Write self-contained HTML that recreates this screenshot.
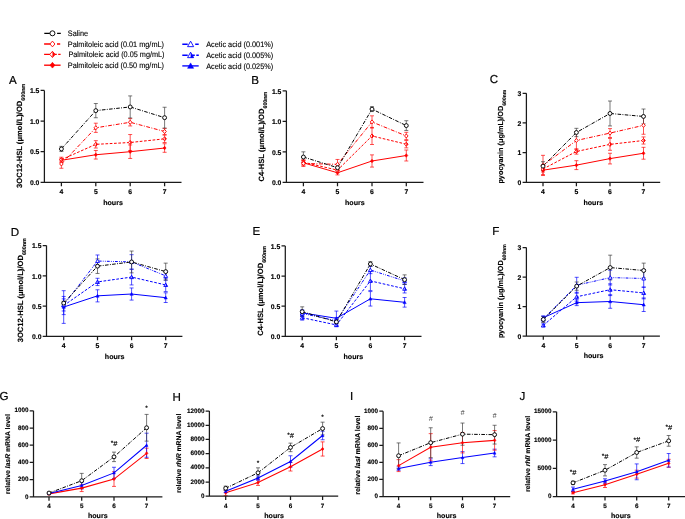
<!DOCTYPE html>
<html><head><meta charset="utf-8"><title>Figure</title>
<style>
html,body{margin:0;padding:0;background:#fff;}
svg{display:block;font-family:"Liberation Sans", sans-serif;will-change:transform;text-rendering:geometricPrecision;}
</style></head>
<body>
<svg width="685" height="519" viewBox="0 0 685 519">
<rect width="685" height="519" fill="#fff"/>
<path d="M44.3,33.3H49.9M57.1,33.3H60.8" stroke="#000000" stroke-width="1.35" fill="none"/>
<circle cx="52.45" cy="33.3" r="2.5" fill="#fff" stroke="#000000" stroke-width="0.95"/>
<text x="67.8" y="35.9" font-size="8.0" font-weight="400" text-anchor="start" fill="#000" textLength="20.3" lengthAdjust="spacingAndGlyphs" stroke="#000" stroke-width="0.12">Saline</text>
<path d="M44.1,44.0H50.0M57.0,44.0H60.2" stroke="#ff0000" stroke-width="1.35" fill="none"/>
<polygon points="52.45,41.11 54.92,44 52.45,46.89 49.98,44" fill="#fff" stroke="#ff0000" stroke-width="0.9"/>
<text x="67.8" y="46.6" font-size="8.0" font-weight="400" text-anchor="start" fill="#000" textLength="96.16" lengthAdjust="spacingAndGlyphs" stroke="#000" stroke-width="0.12">Palmitoleic acid (0.01 mg/mL)</text>
<path d="M44.1,54.4H50.0M52.4,54.4H56.8M58.2,54.4H60.6" stroke="#ff0000" stroke-width="1.35" fill="none"/>
<polygon points="52.45,51.32 55.08,54.4 52.45,57.48 49.83,54.4" fill="#fff" stroke="#ff0000" stroke-width="0.9"/><polygon points="52.45,51.32 55.08,54.4 52.45,57.48" fill="#ff0000"/>
<text x="68.4" y="57" font-size="8.0" font-weight="400" text-anchor="start" fill="#000" textLength="96.16" lengthAdjust="spacingAndGlyphs" stroke="#000" stroke-width="0.12">Palmitoleic acid (0.05 mg/mL)</text>
<path d="M44.1,65.2H60.6" stroke="#ff0000" stroke-width="1.35" fill="none"/>
<polygon points="52.45,62.31 54.92,65.2 52.45,68.09 49.98,65.2" fill="#ff0000" stroke="#ff0000" stroke-width="0.6"/>
<text x="67.8" y="67.8" font-size="8.0" font-weight="400" text-anchor="start" fill="#000" textLength="96.16" lengthAdjust="spacingAndGlyphs" stroke="#000" stroke-width="0.12">Palmitoleic acid (0.50 mg/mL)</text>
<path d="M182.3,44.2H187.7M195.2,44.2H198.7" stroke="#0000ff" stroke-width="1.35" fill="none"/>
<polygon points="190.6,41.18 193.64,46.65 187.56,46.65" fill="#fff" stroke="#0000ff" stroke-width="0.9"/>
<text x="206.2" y="46.8" font-size="8.0" font-weight="400" text-anchor="start" fill="#000" textLength="66.96" lengthAdjust="spacingAndGlyphs" stroke="#000" stroke-width="0.12">Acetic acid (0.001%)</text>
<path d="M182.3,55.2H187.7M190.5,55.2H194.8M196.3,55.2H198.8" stroke="#0000ff" stroke-width="1.35" fill="none"/>
<polygon points="190.6,52.18 193.64,57.65 187.56,57.65" fill="#fff" stroke="#0000ff" stroke-width="0.9"/><polygon points="190.6,52.18 193.64,57.65 190.6,57.65" fill="#0000ff"/>
<text x="206.2" y="57.8" font-size="8.0" font-weight="400" text-anchor="start" fill="#000" textLength="66.96" lengthAdjust="spacingAndGlyphs" stroke="#000" stroke-width="0.12">Acetic acid (0.005%)</text>
<path d="M182.3,65.9H198.7" stroke="#0000ff" stroke-width="1.35" fill="none"/>
<polygon points="190.6,62.88 193.64,68.35 187.56,68.35" fill="#0000ff" stroke="#0000ff" stroke-width="0.5"/>
<text x="206.2" y="68.5" font-size="8.0" font-weight="400" text-anchor="start" fill="#000" textLength="66.96" lengthAdjust="spacingAndGlyphs" stroke="#000" stroke-width="0.12">Acetic acid (0.025%)</text>
<path d="M61.4,158.44V162.12M59.4,158.44H63.4M59.4,162.12H63.4" fill="none" stroke="#ff0000" stroke-width="0.68"/>
<path d="M95.8,150.47V159.06M93.8,150.47H97.8M93.8,159.06H97.8" fill="none" stroke="#ff0000" stroke-width="0.68"/>
<path d="M130.2,144.96V158.44M128.2,144.96H132.2M128.2,158.44H132.2" fill="none" stroke="#ff0000" stroke-width="0.68"/>
<path d="M164.6,143.73V152.31M162.6,143.73H166.6M162.6,152.31H166.6" fill="none" stroke="#ff0000" stroke-width="0.68"/>
<path d="M61.4,157.22V162.12M59.4,157.22H63.4M59.4,162.12H63.4" fill="none" stroke="#ff0000" stroke-width="0.68"/>
<path d="M95.8,140.67V148.02M93.8,140.67H97.8M93.8,148.02H97.8" fill="none" stroke="#ff0000" stroke-width="0.68"/>
<path d="M130.2,134.54V150.47M128.2,134.54H132.2M128.2,150.47H132.2" fill="none" stroke="#ff0000" stroke-width="0.68"/>
<path d="M164.6,135.15V142.5M162.6,135.15H166.6M162.6,142.5H166.6" fill="none" stroke="#ff0000" stroke-width="0.68"/>
<path d="M61.4,159.67V168.25M59.4,159.67H63.4M59.4,168.25H63.4" fill="none" stroke="#ff0000" stroke-width="0.68"/>
<path d="M95.8,123.2V132.39M93.8,123.2H97.8M93.8,132.39H97.8" fill="none" stroke="#ff0000" stroke-width="0.68"/>
<path d="M130.2,118.6V125.95M128.2,118.6H132.2M128.2,125.95H132.2" fill="none" stroke="#ff0000" stroke-width="0.68"/>
<path d="M164.6,128.41V134.54M162.6,128.41H166.6M162.6,134.54H166.6" fill="none" stroke="#ff0000" stroke-width="0.68"/>
<path d="M61.4,146.37V151.52M59.4,146.37H63.4M59.4,151.52H63.4" fill="none" stroke="#3a3a3a" stroke-width="0.68"/>
<path d="M95.8,103.52V117.74M93.8,103.52H97.8M93.8,117.74H97.8" fill="none" stroke="#3a3a3a" stroke-width="0.68"/>
<path d="M130.2,95.92V117.98M128.2,95.92H132.2M128.2,117.98H132.2" fill="none" stroke="#3a3a3a" stroke-width="0.68"/>
<path d="M164.6,107.26V128.1M162.6,107.26H166.6M162.6,128.1H166.6" fill="none" stroke="#3a3a3a" stroke-width="0.68"/>
<path d="M61.4,160.28 L95.8,154.76 L130.2,151.7 L164.6,148.02" fill="none" stroke="#ff0000" stroke-width="1.0"/>
<path d="M61.4,159.67 L95.8,144.34 L130.2,142.5 L164.6,138.83" fill="none" stroke="#ff0000" stroke-width="1.0" stroke-dasharray="2.7 1.6"/>
<path d="M61.4,163.96 L95.8,127.79 L130.2,122.28 L164.6,131.47" fill="none" stroke="#ff0000" stroke-width="1.0" stroke-dasharray="3.8 1.5 0.9 1.6"/>
<path d="M61.4,148.94 L95.8,110.63 L130.2,106.95 L164.6,117.68" fill="none" stroke="#000000" stroke-width="1.0" stroke-dasharray="3.6 1.35 0.9 1.35"/>
<polygon points="61.4,158.54 62.89,160.28 61.4,162.02 59.91,160.28" fill="#ff0000" stroke="#ff0000" stroke-width="0.6"/>
<polygon points="95.8,153.02 97.29,154.76 95.8,156.51 94.31,154.76" fill="#ff0000" stroke="#ff0000" stroke-width="0.6"/>
<polygon points="130.2,149.96 131.69,151.7 130.2,153.44 128.71,151.7" fill="#ff0000" stroke="#ff0000" stroke-width="0.6"/>
<polygon points="164.6,146.28 166.09,148.02 164.6,149.76 163.11,148.02" fill="#ff0000" stroke="#ff0000" stroke-width="0.6"/>
<polygon points="61.4,157.62 63.15,159.67 61.4,161.72 59.65,159.67" fill="#fff" stroke="#ff0000" stroke-width="0.9"/><polygon points="61.4,157.62 63.15,159.67 61.4,161.72" fill="#ff0000"/>
<polygon points="95.8,142.29 97.55,144.34 95.8,146.39 94.05,144.34" fill="#fff" stroke="#ff0000" stroke-width="0.9"/><polygon points="95.8,142.29 97.55,144.34 95.8,146.39" fill="#ff0000"/>
<polygon points="130.2,140.45 131.95,142.5 130.2,144.56 128.45,142.5" fill="#fff" stroke="#ff0000" stroke-width="0.9"/><polygon points="130.2,140.45 131.95,142.5 130.2,144.56" fill="#ff0000"/>
<polygon points="164.6,136.78 166.35,138.83 164.6,140.88 162.85,138.83" fill="#fff" stroke="#ff0000" stroke-width="0.9"/><polygon points="164.6,136.78 166.35,138.83 164.6,140.88" fill="#ff0000"/>
<polygon points="61.4,161.91 63.15,163.96 61.4,166.01 59.65,163.96" fill="#fff" stroke="#ff0000" stroke-width="0.9"/>
<polygon points="95.8,125.74 97.55,127.79 95.8,129.84 94.05,127.79" fill="#fff" stroke="#ff0000" stroke-width="0.9"/>
<polygon points="130.2,120.23 131.95,122.28 130.2,124.33 128.45,122.28" fill="#fff" stroke="#ff0000" stroke-width="0.9"/>
<polygon points="164.6,129.42 166.35,131.47 164.6,133.52 162.85,131.47" fill="#fff" stroke="#ff0000" stroke-width="0.9"/>
<circle cx="61.4" cy="148.94" r="1.95" fill="#fff" stroke="#000000" stroke-width="0.95"/>
<circle cx="95.8" cy="110.63" r="1.95" fill="#fff" stroke="#000000" stroke-width="0.95"/>
<circle cx="130.2" cy="106.95" r="1.95" fill="#fff" stroke="#000000" stroke-width="0.95"/>
<circle cx="164.6" cy="117.68" r="1.95" fill="#fff" stroke="#000000" stroke-width="0.95"/>
<path d="M44.4,90.4V182.35M40.6,182.35H181.5M40.6,182.35H44.4M40.6,151.7H44.4M40.6,121.05H44.4M40.6,90.4H44.4M61.4,182.35V186.15M95.8,182.35V186.15M130.2,182.35V186.15M164.6,182.35V186.15" fill="none" stroke="#1a1a1a" stroke-width="1.25"/>
<text x="39.4" y="185.07" font-size="6.8" font-weight="700" text-anchor="end" fill="#000" stroke="#000" stroke-width="0.14">0.0</text>
<text x="39.4" y="154.42" font-size="6.8" font-weight="700" text-anchor="end" fill="#000" stroke="#000" stroke-width="0.14">0.5</text>
<text x="39.4" y="123.77" font-size="6.8" font-weight="700" text-anchor="end" fill="#000" stroke="#000" stroke-width="0.14">1.0</text>
<text x="39.4" y="93.12" font-size="6.8" font-weight="700" text-anchor="end" fill="#000" stroke="#000" stroke-width="0.14">1.5</text>
<text x="61.4" y="194.15" font-size="6.8" font-weight="700" text-anchor="middle" fill="#000" stroke="#000" stroke-width="0.14">4</text>
<text x="95.8" y="194.15" font-size="6.8" font-weight="700" text-anchor="middle" fill="#000" stroke="#000" stroke-width="0.14">5</text>
<text x="130.2" y="194.15" font-size="6.8" font-weight="700" text-anchor="middle" fill="#000" stroke="#000" stroke-width="0.14">6</text>
<text x="164.6" y="194.15" font-size="6.8" font-weight="700" text-anchor="middle" fill="#000" stroke="#000" stroke-width="0.14">7</text>
<text x="113" y="204.65" font-size="7.1" font-weight="700" text-anchor="middle" fill="#000" stroke="#000" stroke-width="0.14">hours</text>
<text transform="translate(21.7,135.9) rotate(-90)" font-size="7.6" font-weight="700" text-anchor="middle" stroke="#000" stroke-width="0.14">3OC12-HSL (μmol/L)/OD<tspan font-size="5.3" dy="3.0">600nm</tspan></text>
<text x="9" y="83.8" font-size="11.6" font-weight="400" text-anchor="start" fill="#000" stroke="#000" stroke-width="0.2">A</text>
<path d="M303.4,160.38V165.26M301.4,160.38H305.4M301.4,165.26H305.4" fill="none" stroke="#ff0000" stroke-width="0.68"/>
<path d="M337.5,170.63V174.9M335.5,170.63H339.5M335.5,174.9H339.5" fill="none" stroke="#ff0000" stroke-width="0.68"/>
<path d="M372,154.88V167.09M370,154.88H374M370,167.09H374" fill="none" stroke="#ff0000" stroke-width="0.68"/>
<path d="M406.3,150V160.99M404.3,150H408.3M404.3,160.99H408.3" fill="none" stroke="#ff0000" stroke-width="0.68"/>
<path d="M303.4,159.77V164.65M301.4,159.77H305.4M301.4,164.65H305.4" fill="none" stroke="#ff0000" stroke-width="0.68"/>
<path d="M337.5,167.7V172.58M335.5,167.7H339.5M335.5,172.58H339.5" fill="none" stroke="#ff0000" stroke-width="0.68"/>
<path d="M372,127.42V144.51M370,127.42H374M370,144.51H374" fill="none" stroke="#ff0000" stroke-width="0.68"/>
<path d="M406.3,140.54V147.87M404.3,140.54H408.3M404.3,147.87H408.3" fill="none" stroke="#ff0000" stroke-width="0.68"/>
<path d="M303.4,160.38V166.48M301.4,160.38H305.4M301.4,166.48H305.4" fill="none" stroke="#ff0000" stroke-width="0.68"/>
<path d="M337.5,159.46V169.23M335.5,159.46H339.5M335.5,169.23H339.5" fill="none" stroke="#ff0000" stroke-width="0.68"/>
<path d="M372,115.82V128.03M370,115.82H374M370,128.03H374" fill="none" stroke="#ff0000" stroke-width="0.68"/>
<path d="M406.3,132.3V139.63M404.3,132.3H408.3M404.3,139.63H408.3" fill="none" stroke="#ff0000" stroke-width="0.68"/>
<path d="M303.4,151.83V162.21M301.4,151.83H305.4M301.4,162.21H305.4" fill="none" stroke="#3a3a3a" stroke-width="0.68"/>
<path d="M337.5,164.65V170.75M335.5,164.65H339.5M335.5,170.75H339.5" fill="none" stroke="#3a3a3a" stroke-width="0.68"/>
<path d="M372,106.67V111.55M370,106.67H374M370,111.55H374" fill="none" stroke="#3a3a3a" stroke-width="0.68"/>
<path d="M406.3,120.71V130.47M404.3,120.71H408.3M404.3,130.47H408.3" fill="none" stroke="#3a3a3a" stroke-width="0.68"/>
<path d="M303.4,162.82 L337.5,172.77 L372,160.99 L406.3,155.5" fill="none" stroke="#ff0000" stroke-width="1.0"/>
<path d="M303.4,162.21 L337.5,170.14 L372,135.96 L406.3,144.2" fill="none" stroke="#ff0000" stroke-width="1.0" stroke-dasharray="2.7 1.6"/>
<path d="M303.4,163.43 L337.5,164.35 L372,121.93 L406.3,135.96" fill="none" stroke="#ff0000" stroke-width="1.0" stroke-dasharray="3.8 1.5 0.9 1.6"/>
<path d="M303.4,157.02 L337.5,167.7 L372,109.11 L406.3,125.59" fill="none" stroke="#000000" stroke-width="1.0" stroke-dasharray="3.6 1.35 0.9 1.35"/>
<polygon points="303.4,161.08 304.89,162.82 303.4,164.56 301.91,162.82" fill="#ff0000" stroke="#ff0000" stroke-width="0.6"/>
<polygon points="337.5,171.03 338.99,172.77 337.5,174.51 336.01,172.77" fill="#ff0000" stroke="#ff0000" stroke-width="0.6"/>
<polygon points="372,159.25 373.49,160.99 372,162.73 370.51,160.99" fill="#ff0000" stroke="#ff0000" stroke-width="0.6"/>
<polygon points="406.3,153.75 407.79,155.5 406.3,157.24 404.81,155.5" fill="#ff0000" stroke="#ff0000" stroke-width="0.6"/>
<polygon points="303.4,160.16 305.15,162.21 303.4,164.26 301.65,162.21" fill="#fff" stroke="#ff0000" stroke-width="0.9"/><polygon points="303.4,160.16 305.15,162.21 303.4,164.26" fill="#ff0000"/>
<polygon points="337.5,168.09 339.25,170.14 337.5,172.19 335.75,170.14" fill="#fff" stroke="#ff0000" stroke-width="0.9"/><polygon points="337.5,168.09 339.25,170.14 337.5,172.19" fill="#ff0000"/>
<polygon points="372,133.91 373.75,135.96 372,138.01 370.25,135.96" fill="#fff" stroke="#ff0000" stroke-width="0.9"/><polygon points="372,133.91 373.75,135.96 372,138.01" fill="#ff0000"/>
<polygon points="406.3,142.15 408.05,144.2 406.3,146.25 404.55,144.2" fill="#fff" stroke="#ff0000" stroke-width="0.9"/><polygon points="406.3,142.15 408.05,144.2 406.3,146.25" fill="#ff0000"/>
<polygon points="303.4,161.38 305.15,163.43 303.4,165.48 301.65,163.43" fill="#fff" stroke="#ff0000" stroke-width="0.9"/>
<polygon points="337.5,162.3 339.25,164.35 337.5,166.4 335.75,164.35" fill="#fff" stroke="#ff0000" stroke-width="0.9"/>
<polygon points="372,119.88 373.75,121.93 372,123.98 370.25,121.93" fill="#fff" stroke="#ff0000" stroke-width="0.9"/>
<polygon points="406.3,133.91 408.05,135.96 406.3,138.01 404.55,135.96" fill="#fff" stroke="#ff0000" stroke-width="0.9"/>
<circle cx="303.4" cy="157.02" r="1.95" fill="#fff" stroke="#000000" stroke-width="0.95"/>
<circle cx="337.5" cy="167.7" r="1.95" fill="#fff" stroke="#000000" stroke-width="0.95"/>
<circle cx="372" cy="109.11" r="1.95" fill="#fff" stroke="#000000" stroke-width="0.95"/>
<circle cx="406.3" cy="125.59" r="1.95" fill="#fff" stroke="#000000" stroke-width="0.95"/>
<path d="M286.4,90.8V182.35M282.6,182.35H423.5M282.6,182.35H286.4M282.6,151.83H286.4M282.6,121.32H286.4M282.6,90.8H286.4M303.4,182.35V186.15M337.5,182.35V186.15M372,182.35V186.15M406.3,182.35V186.15" fill="none" stroke="#1a1a1a" stroke-width="1.25"/>
<text x="281.4" y="185.07" font-size="6.8" font-weight="700" text-anchor="end" fill="#000" stroke="#000" stroke-width="0.14">0.0</text>
<text x="281.4" y="154.55" font-size="6.8" font-weight="700" text-anchor="end" fill="#000" stroke="#000" stroke-width="0.14">0.5</text>
<text x="281.4" y="124.04" font-size="6.8" font-weight="700" text-anchor="end" fill="#000" stroke="#000" stroke-width="0.14">1.0</text>
<text x="281.4" y="93.52" font-size="6.8" font-weight="700" text-anchor="end" fill="#000" stroke="#000" stroke-width="0.14">1.5</text>
<text x="303.4" y="194.15" font-size="6.8" font-weight="700" text-anchor="middle" fill="#000" stroke="#000" stroke-width="0.14">4</text>
<text x="337.5" y="194.15" font-size="6.8" font-weight="700" text-anchor="middle" fill="#000" stroke="#000" stroke-width="0.14">5</text>
<text x="372" y="194.15" font-size="6.8" font-weight="700" text-anchor="middle" fill="#000" stroke="#000" stroke-width="0.14">6</text>
<text x="406.3" y="194.15" font-size="6.8" font-weight="700" text-anchor="middle" fill="#000" stroke="#000" stroke-width="0.14">7</text>
<text x="354.85" y="204.65" font-size="7.1" font-weight="700" text-anchor="middle" fill="#000" stroke="#000" stroke-width="0.14">hours</text>
<text transform="translate(263.7,136.6) rotate(-90)" font-size="7.6" font-weight="700" text-anchor="middle" stroke="#000" stroke-width="0.14">C4-HSL (μmol/L)/OD<tspan font-size="5.3" dy="3.0">600nm</tspan></text>
<text x="251.3" y="84" font-size="11.6" font-weight="400" text-anchor="start" fill="#000" stroke="#000" stroke-width="0.2">B</text>
<path d="M543,165.73V174.63M541,165.73H545M541,174.63H545" fill="none" stroke="#ff0000" stroke-width="0.68"/>
<path d="M576.4,160.68V169.59M574.4,160.68H578.4M574.4,169.59H578.4" fill="none" stroke="#ff0000" stroke-width="0.68"/>
<path d="M610,153.26V163.95M608,153.26H612M608,163.95H612" fill="none" stroke="#ff0000" stroke-width="0.68"/>
<path d="M643.5,147.32V159.2M641.5,147.32H645.5M641.5,159.2H645.5" fill="none" stroke="#ff0000" stroke-width="0.68"/>
<path d="M543,166.02V171.96M541,166.02H545M541,171.96H545" fill="none" stroke="#ff0000" stroke-width="0.68"/>
<path d="M576.4,148.81V154.15M574.4,148.81H578.4M574.4,154.15H578.4" fill="none" stroke="#ff0000" stroke-width="0.68"/>
<path d="M610,138.42V150.29M608,138.42H612M608,150.29H612" fill="none" stroke="#ff0000" stroke-width="0.68"/>
<path d="M643.5,136.93V144.06M641.5,136.93H645.5M641.5,144.06H645.5" fill="none" stroke="#ff0000" stroke-width="0.68"/>
<path d="M543,155.34V175.52M541,155.34H545M541,175.52H545" fill="none" stroke="#ff0000" stroke-width="0.68"/>
<path d="M576.4,131.59V149.4M574.4,131.59H578.4M574.4,149.4H578.4" fill="none" stroke="#ff0000" stroke-width="0.68"/>
<path d="M610,128.62V137.53M608,128.62H612M608,137.53H612" fill="none" stroke="#ff0000" stroke-width="0.68"/>
<path d="M643.5,116.45V134.26M641.5,116.45H645.5M641.5,134.26H645.5" fill="none" stroke="#ff0000" stroke-width="0.68"/>
<path d="M543,161.69V170.6M541,161.69H545M541,170.6H545" fill="none" stroke="#3a3a3a" stroke-width="0.68"/>
<path d="M576.4,128.33V136.64M574.4,128.33H578.4M574.4,136.64H578.4" fill="none" stroke="#3a3a3a" stroke-width="0.68"/>
<path d="M610,101.02V125.95M608,101.02H612M608,125.95H612" fill="none" stroke="#3a3a3a" stroke-width="0.68"/>
<path d="M643.5,109.03V123.87M641.5,109.03H645.5M641.5,123.87H645.5" fill="none" stroke="#3a3a3a" stroke-width="0.68"/>
<path d="M543,170.18 L576.4,165.13 L610,158.6 L643.5,153.26" fill="none" stroke="#ff0000" stroke-width="1.0"/>
<path d="M543,168.99 L576.4,151.48 L610,144.36 L643.5,140.5" fill="none" stroke="#ff0000" stroke-width="1.0" stroke-dasharray="2.7 1.6"/>
<path d="M543,165.43 L576.4,140.5 L610,133.08 L643.5,125.36" fill="none" stroke="#ff0000" stroke-width="1.0" stroke-dasharray="3.8 1.5 0.9 1.6"/>
<path d="M543,166.14 L576.4,132.48 L610,113.48 L643.5,116.45" fill="none" stroke="#000000" stroke-width="1.0" stroke-dasharray="3.6 1.35 0.9 1.35"/>
<polygon points="543,168.44 544.49,170.18 543,171.92 541.51,170.18" fill="#ff0000" stroke="#ff0000" stroke-width="0.6"/>
<polygon points="576.4,163.39 577.89,165.13 576.4,166.88 574.91,165.13" fill="#ff0000" stroke="#ff0000" stroke-width="0.6"/>
<polygon points="610,156.86 611.49,158.6 610,160.35 608.51,158.6" fill="#ff0000" stroke="#ff0000" stroke-width="0.6"/>
<polygon points="643.5,151.52 644.99,153.26 643.5,155 642.01,153.26" fill="#ff0000" stroke="#ff0000" stroke-width="0.6"/>
<polygon points="543,166.94 544.75,168.99 543,171.04 541.25,168.99" fill="#fff" stroke="#ff0000" stroke-width="0.9"/><polygon points="543,166.94 544.75,168.99 543,171.04" fill="#ff0000"/>
<polygon points="576.4,149.43 578.15,151.48 576.4,153.53 574.65,151.48" fill="#fff" stroke="#ff0000" stroke-width="0.9"/><polygon points="576.4,149.43 578.15,151.48 576.4,153.53" fill="#ff0000"/>
<polygon points="610,142.31 611.75,144.36 610,146.41 608.25,144.36" fill="#fff" stroke="#ff0000" stroke-width="0.9"/><polygon points="610,142.31 611.75,144.36 610,146.41" fill="#ff0000"/>
<polygon points="643.5,138.45 645.25,140.5 643.5,142.55 641.75,140.5" fill="#fff" stroke="#ff0000" stroke-width="0.9"/><polygon points="643.5,138.45 645.25,140.5 643.5,142.55" fill="#ff0000"/>
<polygon points="543,163.38 544.75,165.43 543,167.48 541.25,165.43" fill="#fff" stroke="#ff0000" stroke-width="0.9"/>
<polygon points="576.4,138.45 578.15,140.5 576.4,142.55 574.65,140.5" fill="#fff" stroke="#ff0000" stroke-width="0.9"/>
<polygon points="610,131.03 611.75,133.08 610,135.13 608.25,133.08" fill="#fff" stroke="#ff0000" stroke-width="0.9"/>
<polygon points="643.5,123.31 645.25,125.36 643.5,127.41 641.75,125.36" fill="#fff" stroke="#ff0000" stroke-width="0.9"/>
<circle cx="543" cy="166.14" r="1.95" fill="#fff" stroke="#000000" stroke-width="0.95"/>
<circle cx="576.4" cy="132.48" r="1.95" fill="#fff" stroke="#000000" stroke-width="0.95"/>
<circle cx="610" cy="113.48" r="1.95" fill="#fff" stroke="#000000" stroke-width="0.95"/>
<circle cx="643.5" cy="116.45" r="1.95" fill="#fff" stroke="#000000" stroke-width="0.95"/>
<path d="M526.4,93.3V182.35M522.6,182.35H660.2M522.6,182.35H526.4M522.6,152.67H526.4M522.6,122.98H526.4M522.6,93.3H526.4M543,182.35V186.15M576.4,182.35V186.15M610,182.35V186.15M643.5,182.35V186.15" fill="none" stroke="#1a1a1a" stroke-width="1.25"/>
<text x="521.4" y="185.07" font-size="6.8" font-weight="700" text-anchor="end" fill="#000" stroke="#000" stroke-width="0.14">0</text>
<text x="521.4" y="155.39" font-size="6.8" font-weight="700" text-anchor="end" fill="#000" stroke="#000" stroke-width="0.14">1</text>
<text x="521.4" y="125.7" font-size="6.8" font-weight="700" text-anchor="end" fill="#000" stroke="#000" stroke-width="0.14">2</text>
<text x="521.4" y="96.02" font-size="6.8" font-weight="700" text-anchor="end" fill="#000" stroke="#000" stroke-width="0.14">3</text>
<text x="543" y="194.15" font-size="6.8" font-weight="700" text-anchor="middle" fill="#000" stroke="#000" stroke-width="0.14">4</text>
<text x="576.4" y="194.15" font-size="6.8" font-weight="700" text-anchor="middle" fill="#000" stroke="#000" stroke-width="0.14">5</text>
<text x="610" y="194.15" font-size="6.8" font-weight="700" text-anchor="middle" fill="#000" stroke="#000" stroke-width="0.14">6</text>
<text x="643.5" y="194.15" font-size="6.8" font-weight="700" text-anchor="middle" fill="#000" stroke="#000" stroke-width="0.14">7</text>
<text x="593.25" y="204.65" font-size="7.1" font-weight="700" text-anchor="middle" fill="#000" stroke="#000" stroke-width="0.14">hours</text>
<text transform="translate(502.7,136.6) rotate(-90)" font-size="7.3" font-weight="700" text-anchor="middle" stroke="#000" stroke-width="0.14">pyocyanin (μg/mL)/OD<tspan font-size="5.1" dy="3.0">600nm</tspan></text>
<text x="489.8" y="83.4" font-size="11.6" font-weight="400" text-anchor="start" fill="#000" stroke="#000" stroke-width="0.2">C</text>
<path d="M63.7,290.7V323.39M61.7,290.7H65.7M61.7,323.39H65.7" fill="none" stroke="#0000ff" stroke-width="0.68"/>
<path d="M97.5,289.79V301.9M95.5,289.79H99.5M95.5,301.9H99.5" fill="none" stroke="#0000ff" stroke-width="0.68"/>
<path d="M131.6,287.97V300.08M129.6,287.97H133.6M129.6,300.08H133.6" fill="none" stroke="#0000ff" stroke-width="0.68"/>
<path d="M165.7,292.82V302.5M163.7,292.82H167.7M163.7,302.5H167.7" fill="none" stroke="#0000ff" stroke-width="0.68"/>
<path d="M63.7,296.45V314.61M61.7,296.45H65.7M61.7,314.61H65.7" fill="none" stroke="#0000ff" stroke-width="0.68"/>
<path d="M97.5,278.29V285.55M95.5,278.29H99.5M95.5,285.55H99.5" fill="none" stroke="#0000ff" stroke-width="0.68"/>
<path d="M131.6,269.21V284.95M129.6,269.21H133.6M129.6,284.95H133.6" fill="none" stroke="#0000ff" stroke-width="0.68"/>
<path d="M165.7,278.29V291.61M163.7,278.29H167.7M163.7,291.61H167.7" fill="none" stroke="#0000ff" stroke-width="0.68"/>
<path d="M63.7,298.87V310.98M61.7,298.87H65.7M61.7,310.98H65.7" fill="none" stroke="#0000ff" stroke-width="0.68"/>
<path d="M97.5,254.98V267.09M95.5,254.98H99.5M95.5,267.09H99.5" fill="none" stroke="#0000ff" stroke-width="0.68"/>
<path d="M131.6,254.68V269.21M129.6,254.68H133.6M129.6,269.21H133.6" fill="none" stroke="#0000ff" stroke-width="0.68"/>
<path d="M165.7,271.63V280.1M163.7,271.63H167.7M163.7,280.1H167.7" fill="none" stroke="#0000ff" stroke-width="0.68"/>
<path d="M63.7,301.29V304.92M61.7,301.29H65.7M61.7,304.92H65.7" fill="none" stroke="#3a3a3a" stroke-width="0.68"/>
<path d="M97.5,258.92V273.45M95.5,258.92H99.5M95.5,273.45H99.5" fill="none" stroke="#3a3a3a" stroke-width="0.68"/>
<path d="M131.6,251.05V272.84M129.6,251.05H133.6M129.6,272.84H133.6" fill="none" stroke="#3a3a3a" stroke-width="0.68"/>
<path d="M165.7,263.15V280.1M163.7,263.15H167.7M163.7,280.1H167.7" fill="none" stroke="#3a3a3a" stroke-width="0.68"/>
<path d="M63.7,307.04 L97.5,295.84 L131.6,294.03 L165.7,297.66" fill="none" stroke="#0000ff" stroke-width="1.0"/>
<path d="M63.7,305.53 L97.5,281.92 L131.6,277.08 L165.7,284.95" fill="none" stroke="#0000ff" stroke-width="1.0" stroke-dasharray="2.7 1.6"/>
<path d="M63.7,304.92 L97.5,261.04 L131.6,261.94 L165.7,275.87" fill="none" stroke="#0000ff" stroke-width="1.0" stroke-dasharray="2.8 1.2 0.8 1.3 0.8 1.2"/>
<path d="M63.7,303.11 L97.5,266.18 L131.6,261.94 L165.7,271.63" fill="none" stroke="#000000" stroke-width="1.0" stroke-dasharray="3.6 1.35 0.9 1.35"/>
<polygon points="63.7,305.43 65.31,308.34 62.09,308.34" fill="#0000ff" stroke="#0000ff" stroke-width="0.5"/>
<polygon points="97.5,294.24 99.11,297.14 95.89,297.14" fill="#0000ff" stroke="#0000ff" stroke-width="0.5"/>
<polygon points="131.6,292.42 133.22,295.33 129.98,295.33" fill="#0000ff" stroke="#0000ff" stroke-width="0.5"/>
<polygon points="165.7,296.05 167.31,298.96 164.08,298.96" fill="#0000ff" stroke="#0000ff" stroke-width="0.5"/>
<polygon points="63.7,303.64 65.6,307.06 61.8,307.06" fill="#fff" stroke="#0000ff" stroke-width="0.9"/><polygon points="63.7,303.64 65.6,307.06 63.7,307.06" fill="#0000ff"/>
<polygon points="97.5,280.03 99.4,283.45 95.6,283.45" fill="#fff" stroke="#0000ff" stroke-width="0.9"/><polygon points="97.5,280.03 99.4,283.45 97.5,283.45" fill="#0000ff"/>
<polygon points="131.6,275.19 133.5,278.61 129.7,278.61" fill="#fff" stroke="#0000ff" stroke-width="0.9"/><polygon points="131.6,275.19 133.5,278.61 131.6,278.61" fill="#0000ff"/>
<polygon points="165.7,283.06 167.6,286.48 163.8,286.48" fill="#fff" stroke="#0000ff" stroke-width="0.9"/><polygon points="165.7,283.06 167.6,286.48 165.7,286.48" fill="#0000ff"/>
<polygon points="63.7,303.03 65.6,306.45 61.8,306.45" fill="#fff" stroke="#0000ff" stroke-width="0.9"/>
<polygon points="97.5,259.15 99.4,262.57 95.6,262.57" fill="#fff" stroke="#0000ff" stroke-width="0.9"/>
<polygon points="131.6,260.05 133.5,263.47 129.7,263.47" fill="#fff" stroke="#0000ff" stroke-width="0.9"/>
<polygon points="165.7,273.98 167.6,277.4 163.8,277.4" fill="#fff" stroke="#0000ff" stroke-width="0.9"/>
<circle cx="63.7" cy="303.11" r="1.95" fill="#fff" stroke="#000000" stroke-width="0.95"/>
<circle cx="97.5" cy="266.18" r="1.95" fill="#fff" stroke="#000000" stroke-width="0.95"/>
<circle cx="131.6" cy="261.94" r="1.95" fill="#fff" stroke="#000000" stroke-width="0.95"/>
<circle cx="165.7" cy="271.63" r="1.95" fill="#fff" stroke="#000000" stroke-width="0.95"/>
<path d="M46.5,245.6V336.4M42.7,336.4H182.4M42.7,336.4H46.5M42.7,306.13H46.5M42.7,275.87H46.5M42.7,245.6H46.5M63.7,336.4V340.2M97.5,336.4V340.2M131.6,336.4V340.2M165.7,336.4V340.2" fill="none" stroke="#1a1a1a" stroke-width="1.25"/>
<text x="41.5" y="339.12" font-size="6.8" font-weight="700" text-anchor="end" fill="#000" stroke="#000" stroke-width="0.14">0.0</text>
<text x="41.5" y="308.85" font-size="6.8" font-weight="700" text-anchor="end" fill="#000" stroke="#000" stroke-width="0.14">0.5</text>
<text x="41.5" y="278.59" font-size="6.8" font-weight="700" text-anchor="end" fill="#000" stroke="#000" stroke-width="0.14">1.0</text>
<text x="41.5" y="248.32" font-size="6.8" font-weight="700" text-anchor="end" fill="#000" stroke="#000" stroke-width="0.14">1.5</text>
<text x="63.7" y="348.2" font-size="6.8" font-weight="700" text-anchor="middle" fill="#000" stroke="#000" stroke-width="0.14">4</text>
<text x="97.5" y="348.2" font-size="6.8" font-weight="700" text-anchor="middle" fill="#000" stroke="#000" stroke-width="0.14">5</text>
<text x="131.6" y="348.2" font-size="6.8" font-weight="700" text-anchor="middle" fill="#000" stroke="#000" stroke-width="0.14">6</text>
<text x="165.7" y="348.2" font-size="6.8" font-weight="700" text-anchor="middle" fill="#000" stroke="#000" stroke-width="0.14">7</text>
<text x="114.7" y="358.7" font-size="7.1" font-weight="700" text-anchor="middle" fill="#000" stroke="#000" stroke-width="0.14">hours</text>
<text transform="translate(23,290.3) rotate(-90)" font-size="7.6" font-weight="700" text-anchor="middle" stroke="#000" stroke-width="0.14">3OC12-HSL (μmol/L)/OD<tspan font-size="5.3" dy="3.0">600nm</tspan></text>
<text x="10.8" y="236" font-size="11.6" font-weight="400" text-anchor="start" fill="#000" stroke="#000" stroke-width="0.2">D</text>
<path d="M302.2,309.85V315.89M300.2,309.85H304.2M300.2,315.89H304.2" fill="none" stroke="#0000ff" stroke-width="0.68"/>
<path d="M336.4,311.06V325.54M334.4,311.06H338.4M334.4,325.54H338.4" fill="none" stroke="#0000ff" stroke-width="0.68"/>
<path d="M370.4,291.57V306.05M368.4,291.57H372.4M368.4,306.05H372.4" fill="none" stroke="#0000ff" stroke-width="0.68"/>
<path d="M404.6,297.49V307.14M402.6,297.49H406.6M402.6,307.14H406.6" fill="none" stroke="#0000ff" stroke-width="0.68"/>
<path d="M302.2,315.28V320.11M300.2,315.28H304.2M300.2,320.11H304.2" fill="none" stroke="#0000ff" stroke-width="0.68"/>
<path d="M336.4,323.13V326.75M334.4,323.13H338.4M334.4,326.75H338.4" fill="none" stroke="#0000ff" stroke-width="0.68"/>
<path d="M370.4,271.24V290.55M368.4,271.24H372.4M368.4,290.55H372.4" fill="none" stroke="#0000ff" stroke-width="0.68"/>
<path d="M404.6,284.51V292.96M402.6,284.51H406.6M402.6,292.96H406.6" fill="none" stroke="#0000ff" stroke-width="0.68"/>
<path d="M302.2,310.46V316.49M300.2,310.46H304.2M300.2,316.49H304.2" fill="none" stroke="#0000ff" stroke-width="0.68"/>
<path d="M336.4,317.7V323.73M334.4,317.7H338.4M334.4,323.73H338.4" fill="none" stroke="#0000ff" stroke-width="0.68"/>
<path d="M370.4,266.41V273.65M368.4,266.41H372.4M368.4,273.65H372.4" fill="none" stroke="#0000ff" stroke-width="0.68"/>
<path d="M404.6,277.88V283.91M402.6,277.88H406.6M402.6,283.91H406.6" fill="none" stroke="#0000ff" stroke-width="0.68"/>
<path d="M302.2,306.84V316.49M300.2,306.84H304.2M300.2,316.49H304.2" fill="none" stroke="#3a3a3a" stroke-width="0.68"/>
<path d="M336.4,320.11V323.73M334.4,320.11H338.4M334.4,323.73H338.4" fill="none" stroke="#3a3a3a" stroke-width="0.68"/>
<path d="M370.4,261.59V266.41M368.4,261.59H372.4M368.4,266.41H372.4" fill="none" stroke="#3a3a3a" stroke-width="0.68"/>
<path d="M404.6,274.86V284.51M402.6,274.86H406.6M402.6,284.51H406.6" fill="none" stroke="#3a3a3a" stroke-width="0.68"/>
<path d="M302.2,312.87 L336.4,318.3 L370.4,298.81 L404.6,302.31" fill="none" stroke="#0000ff" stroke-width="1.0"/>
<path d="M302.2,317.7 L336.4,324.94 L370.4,280.89 L404.6,288.74" fill="none" stroke="#0000ff" stroke-width="1.0" stroke-dasharray="2.7 1.6"/>
<path d="M302.2,313.47 L336.4,320.71 L370.4,270.03 L404.6,280.89" fill="none" stroke="#0000ff" stroke-width="1.0" stroke-dasharray="2.8 1.2 0.8 1.3 0.8 1.2"/>
<path d="M302.2,311.66 L336.4,321.92 L370.4,264 L404.6,279.69" fill="none" stroke="#000000" stroke-width="1.0" stroke-dasharray="3.6 1.35 0.9 1.35"/>
<polygon points="302.2,311.26 303.81,314.17 300.58,314.17" fill="#0000ff" stroke="#0000ff" stroke-width="0.5"/>
<polygon points="336.4,316.69 338.01,319.6 334.78,319.6" fill="#0000ff" stroke="#0000ff" stroke-width="0.5"/>
<polygon points="370.4,297.21 372.01,300.11 368.78,300.11" fill="#0000ff" stroke="#0000ff" stroke-width="0.5"/>
<polygon points="404.6,300.71 406.22,303.61 402.99,303.61" fill="#0000ff" stroke="#0000ff" stroke-width="0.5"/>
<polygon points="302.2,315.81 304.1,319.23 300.3,319.23" fill="#fff" stroke="#0000ff" stroke-width="0.9"/><polygon points="302.2,315.81 304.1,319.23 302.2,319.23" fill="#0000ff"/>
<polygon points="336.4,323.05 338.3,326.47 334.5,326.47" fill="#fff" stroke="#0000ff" stroke-width="0.9"/><polygon points="336.4,323.05 338.3,326.47 336.4,326.47" fill="#0000ff"/>
<polygon points="370.4,279 372.3,282.42 368.5,282.42" fill="#fff" stroke="#0000ff" stroke-width="0.9"/><polygon points="370.4,279 372.3,282.42 370.4,282.42" fill="#0000ff"/>
<polygon points="404.6,286.85 406.5,290.27 402.7,290.27" fill="#fff" stroke="#0000ff" stroke-width="0.9"/><polygon points="404.6,286.85 406.5,290.27 404.6,290.27" fill="#0000ff"/>
<polygon points="302.2,311.58 304.1,315 300.3,315" fill="#fff" stroke="#0000ff" stroke-width="0.9"/>
<polygon points="336.4,318.82 338.3,322.24 334.5,322.24" fill="#fff" stroke="#0000ff" stroke-width="0.9"/>
<polygon points="370.4,268.14 372.3,271.56 368.5,271.56" fill="#fff" stroke="#0000ff" stroke-width="0.9"/>
<polygon points="404.6,279 406.5,282.42 402.7,282.42" fill="#fff" stroke="#0000ff" stroke-width="0.9"/>
<circle cx="302.2" cy="311.66" r="1.95" fill="#fff" stroke="#000000" stroke-width="0.95"/>
<circle cx="336.4" cy="321.92" r="1.95" fill="#fff" stroke="#000000" stroke-width="0.95"/>
<circle cx="370.4" cy="264" r="1.95" fill="#fff" stroke="#000000" stroke-width="0.95"/>
<circle cx="404.6" cy="279.69" r="1.95" fill="#fff" stroke="#000000" stroke-width="0.95"/>
<path d="M285.3,245.9V336.4M281.5,336.4H421.5M281.5,336.4H285.3M281.5,306.23H285.3M281.5,276.07H285.3M281.5,245.9H285.3M302.2,336.4V340.2M336.4,336.4V340.2M370.4,336.4V340.2M404.6,336.4V340.2" fill="none" stroke="#1a1a1a" stroke-width="1.25"/>
<text x="280.3" y="339.12" font-size="6.8" font-weight="700" text-anchor="end" fill="#000" stroke="#000" stroke-width="0.14">0.0</text>
<text x="280.3" y="308.95" font-size="6.8" font-weight="700" text-anchor="end" fill="#000" stroke="#000" stroke-width="0.14">0.5</text>
<text x="280.3" y="278.79" font-size="6.8" font-weight="700" text-anchor="end" fill="#000" stroke="#000" stroke-width="0.14">1.0</text>
<text x="280.3" y="248.62" font-size="6.8" font-weight="700" text-anchor="end" fill="#000" stroke="#000" stroke-width="0.14">1.5</text>
<text x="302.2" y="348.2" font-size="6.8" font-weight="700" text-anchor="middle" fill="#000" stroke="#000" stroke-width="0.14">4</text>
<text x="336.4" y="348.2" font-size="6.8" font-weight="700" text-anchor="middle" fill="#000" stroke="#000" stroke-width="0.14">5</text>
<text x="370.4" y="348.2" font-size="6.8" font-weight="700" text-anchor="middle" fill="#000" stroke="#000" stroke-width="0.14">6</text>
<text x="404.6" y="348.2" font-size="6.8" font-weight="700" text-anchor="middle" fill="#000" stroke="#000" stroke-width="0.14">7</text>
<text x="353.4" y="358.7" font-size="7.1" font-weight="700" text-anchor="middle" fill="#000" stroke="#000" stroke-width="0.14">hours</text>
<text transform="translate(263.2,290.9) rotate(-90)" font-size="7.6" font-weight="700" text-anchor="middle" stroke="#000" stroke-width="0.14">C4-HSL (μmol/L)/OD<tspan font-size="5.3" dy="3.0">600nm</tspan></text>
<text x="252.5" y="235.2" font-size="11.6" font-weight="400" text-anchor="start" fill="#000" stroke="#000" stroke-width="0.2">E</text>
<path d="M543.3,316.24V319.19M541.3,316.24H545.3M541.3,319.19H545.3" fill="none" stroke="#0000ff" stroke-width="0.68"/>
<path d="M576.7,299.72V305.62M574.7,299.72H578.7M574.7,305.62H578.7" fill="none" stroke="#0000ff" stroke-width="0.68"/>
<path d="M610.2,294.7V308.27M608.2,294.7H612.2M608.2,308.27H612.2" fill="none" stroke="#0000ff" stroke-width="0.68"/>
<path d="M643.7,297.94V311.51M641.7,297.94H645.7M641.7,311.51H645.7" fill="none" stroke="#0000ff" stroke-width="0.68"/>
<path d="M543.3,323.9V326.86M541.3,323.9H545.3M541.3,326.86H545.3" fill="none" stroke="#0000ff" stroke-width="0.68"/>
<path d="M576.7,292.34V301.19M574.7,292.34H578.7M574.7,301.19H578.7" fill="none" stroke="#0000ff" stroke-width="0.68"/>
<path d="M610.2,283.78V295.58M608.2,283.78H612.2M608.2,295.58H612.2" fill="none" stroke="#0000ff" stroke-width="0.68"/>
<path d="M643.7,287.03V298.83M641.7,287.03H645.7M641.7,298.83H645.7" fill="none" stroke="#0000ff" stroke-width="0.68"/>
<path d="M543.3,315.94V321.84M541.3,315.94H545.3M541.3,321.84H545.3" fill="none" stroke="#0000ff" stroke-width="0.68"/>
<path d="M576.7,277.3V293.23M574.7,277.3H578.7M574.7,293.23H578.7" fill="none" stroke="#0000ff" stroke-width="0.68"/>
<path d="M610.2,270.22V284.97M608.2,270.22H612.2M608.2,284.97H612.2" fill="none" stroke="#0000ff" stroke-width="0.68"/>
<path d="M643.7,269.62V287.32M641.7,269.62H645.7M641.7,287.32H645.7" fill="none" stroke="#0000ff" stroke-width="0.68"/>
<path d="M543.3,316.53V322.43M541.3,316.53H545.3M541.3,322.43H545.3" fill="none" stroke="#3a3a3a" stroke-width="0.68"/>
<path d="M576.7,282.01V290.27M574.7,282.01H578.7M574.7,290.27H578.7" fill="none" stroke="#3a3a3a" stroke-width="0.68"/>
<path d="M610.2,255.17V279.95M608.2,255.17H612.2M608.2,279.95H612.2" fill="none" stroke="#3a3a3a" stroke-width="0.68"/>
<path d="M643.7,263.13V277.88M641.7,263.13H645.7M641.7,277.88H645.7" fill="none" stroke="#3a3a3a" stroke-width="0.68"/>
<path d="M543.3,317.71 L576.7,302.67 L610.2,301.49 L643.7,304.73" fill="none" stroke="#0000ff" stroke-width="1.0"/>
<path d="M543.3,325.38 L576.7,296.76 L610.2,289.69 L643.7,292.93" fill="none" stroke="#0000ff" stroke-width="1.0" stroke-dasharray="2.7 1.6"/>
<path d="M543.3,318.89 L576.7,285.26 L610.2,277.59 L643.7,278.48" fill="none" stroke="#0000ff" stroke-width="1.0" stroke-dasharray="2.8 1.2 0.8 1.3 0.8 1.2"/>
<path d="M543.3,319.48 L576.7,286.14 L610.2,267.56 L643.7,270.51" fill="none" stroke="#000000" stroke-width="1.0" stroke-dasharray="3.6 1.35 0.9 1.35"/>
<polygon points="543.3,316.1 544.91,319.01 541.68,319.01" fill="#0000ff" stroke="#0000ff" stroke-width="0.5"/>
<polygon points="576.7,301.06 578.32,303.97 575.09,303.97" fill="#0000ff" stroke="#0000ff" stroke-width="0.5"/>
<polygon points="610.2,299.88 611.82,302.79 608.59,302.79" fill="#0000ff" stroke="#0000ff" stroke-width="0.5"/>
<polygon points="643.7,303.12 645.32,306.03 642.09,306.03" fill="#0000ff" stroke="#0000ff" stroke-width="0.5"/>
<polygon points="543.3,323.49 545.2,326.91 541.4,326.91" fill="#fff" stroke="#0000ff" stroke-width="0.9"/><polygon points="543.3,323.49 545.2,326.91 543.3,326.91" fill="#0000ff"/>
<polygon points="576.7,294.88 578.6,298.29 574.8,298.29" fill="#fff" stroke="#0000ff" stroke-width="0.9"/><polygon points="576.7,294.88 578.6,298.29 576.7,298.29" fill="#0000ff"/>
<polygon points="610.2,287.8 612.1,291.21 608.3,291.21" fill="#fff" stroke="#0000ff" stroke-width="0.9"/><polygon points="610.2,287.8 612.1,291.21 610.2,291.21" fill="#0000ff"/>
<polygon points="643.7,291.04 645.6,294.46 641.8,294.46" fill="#fff" stroke="#0000ff" stroke-width="0.9"/><polygon points="643.7,291.04 645.6,294.46 643.7,294.46" fill="#0000ff"/>
<polygon points="543.3,317 545.2,320.42 541.4,320.42" fill="#fff" stroke="#0000ff" stroke-width="0.9"/>
<polygon points="576.7,283.37 578.6,286.79 574.8,286.79" fill="#fff" stroke="#0000ff" stroke-width="0.9"/>
<polygon points="610.2,275.7 612.1,279.12 608.3,279.12" fill="#fff" stroke="#0000ff" stroke-width="0.9"/>
<polygon points="643.7,276.59 645.6,280 641.8,280" fill="#fff" stroke="#0000ff" stroke-width="0.9"/>
<circle cx="543.3" cy="319.48" r="1.95" fill="#fff" stroke="#000000" stroke-width="0.95"/>
<circle cx="576.7" cy="286.14" r="1.95" fill="#fff" stroke="#000000" stroke-width="0.95"/>
<circle cx="610.2" cy="267.56" r="1.95" fill="#fff" stroke="#000000" stroke-width="0.95"/>
<circle cx="643.7" cy="270.51" r="1.95" fill="#fff" stroke="#000000" stroke-width="0.95"/>
<path d="M526.4,247.5V336M522.6,336H659.9M522.6,336H526.4M522.6,306.5H526.4M522.6,277H526.4M522.6,247.5H526.4M543.3,336V339.8M576.7,336V339.8M610.2,336V339.8M643.7,336V339.8" fill="none" stroke="#1a1a1a" stroke-width="1.25"/>
<text x="521.4" y="338.72" font-size="6.8" font-weight="700" text-anchor="end" fill="#000" stroke="#000" stroke-width="0.14">0</text>
<text x="521.4" y="309.22" font-size="6.8" font-weight="700" text-anchor="end" fill="#000" stroke="#000" stroke-width="0.14">1</text>
<text x="521.4" y="279.72" font-size="6.8" font-weight="700" text-anchor="end" fill="#000" stroke="#000" stroke-width="0.14">2</text>
<text x="521.4" y="250.22" font-size="6.8" font-weight="700" text-anchor="end" fill="#000" stroke="#000" stroke-width="0.14">3</text>
<text x="543.3" y="347.8" font-size="6.8" font-weight="700" text-anchor="middle" fill="#000" stroke="#000" stroke-width="0.14">4</text>
<text x="576.7" y="347.8" font-size="6.8" font-weight="700" text-anchor="middle" fill="#000" stroke="#000" stroke-width="0.14">5</text>
<text x="610.2" y="347.8" font-size="6.8" font-weight="700" text-anchor="middle" fill="#000" stroke="#000" stroke-width="0.14">6</text>
<text x="643.7" y="347.8" font-size="6.8" font-weight="700" text-anchor="middle" fill="#000" stroke="#000" stroke-width="0.14">7</text>
<text x="593.5" y="358.3" font-size="7.1" font-weight="700" text-anchor="middle" fill="#000" stroke="#000" stroke-width="0.14">hours</text>
<text transform="translate(502.9,291.1) rotate(-90)" font-size="7.3" font-weight="700" text-anchor="middle" stroke="#000" stroke-width="0.14">pyocyanin (μg/mL)/OD<tspan font-size="5.1" dy="3.0">600nm</tspan></text>
<text x="492.2" y="235" font-size="11.6" font-weight="400" text-anchor="start" fill="#000" stroke="#000" stroke-width="0.2">F</text>
<path d="M49,493.03V494.75M47,493.03H51M47,494.75H51" fill="none" stroke="#ff0000" stroke-width="0.68"/>
<path d="M81.7,484.67V491.56M79.7,484.67H83.7M79.7,491.56H83.7" fill="none" stroke="#ff0000" stroke-width="0.68"/>
<path d="M114,471.76V486.4M112,471.76H116M112,486.4H116" fill="none" stroke="#ff0000" stroke-width="0.68"/>
<path d="M146.6,448.17V458.5M144.6,448.17H148.6M144.6,458.5H148.6" fill="none" stroke="#ff0000" stroke-width="0.68"/>
<path d="M49,492.59V494.32M47,492.59H51M47,494.32H51" fill="none" stroke="#0000ff" stroke-width="0.68"/>
<path d="M81.7,482V488.89M79.7,482H83.7M79.7,488.89H83.7" fill="none" stroke="#0000ff" stroke-width="0.68"/>
<path d="M114,467.28V478.47M112,467.28H116M112,478.47H116" fill="none" stroke="#0000ff" stroke-width="0.68"/>
<path d="M146.6,433.19V457.29M144.6,433.19H148.6M144.6,457.29H148.6" fill="none" stroke="#0000ff" stroke-width="0.68"/>
<path d="M49,492.16V493.89M47,492.16H51M47,493.89H51" fill="none" stroke="#3a3a3a" stroke-width="0.68"/>
<path d="M81.7,473.39V488.03M79.7,473.39H83.7M79.7,488.03H83.7" fill="none" stroke="#3a3a3a" stroke-width="0.68"/>
<path d="M114,452.13V461.6M112,452.13H116M112,461.6H116" fill="none" stroke="#3a3a3a" stroke-width="0.68"/>
<path d="M146.6,414.42V441.11M144.6,414.42H148.6M144.6,441.11H148.6" fill="none" stroke="#3a3a3a" stroke-width="0.68"/>
<path d="M49,493.89 L81.7,488.12 L114,479.08 L146.6,453.33" fill="none" stroke="#ff0000" stroke-width="1.05"/>
<path d="M49,493.46 L81.7,485.45 L114,472.88 L146.6,445.24" fill="none" stroke="#0000ff" stroke-width="1.05"/>
<path d="M49,493.03 L81.7,480.71 L114,456.86 L146.6,427.76" fill="none" stroke="#000000" stroke-width="1.0" stroke-dasharray="3.6 1.35 0.9 1.35"/>
<polygon points="49,492.35 50.31,493.89 49,495.42 47.69,493.89" fill="#ff0000" stroke="#ff0000" stroke-width="0.6"/>
<polygon points="81.7,486.58 83.01,488.12 81.7,489.66 80.39,488.12" fill="#ff0000" stroke="#ff0000" stroke-width="0.6"/>
<polygon points="114,477.54 115.31,479.08 114,480.61 112.69,479.08" fill="#ff0000" stroke="#ff0000" stroke-width="0.6"/>
<polygon points="146.6,451.8 147.91,453.33 146.6,454.87 145.29,453.33" fill="#ff0000" stroke="#ff0000" stroke-width="0.6"/>
<polygon points="49,492.04 50.42,494.6 47.58,494.6" fill="#0000ff" stroke="#0000ff" stroke-width="0.5"/>
<polygon points="81.7,484.03 83.12,486.6 80.28,486.6" fill="#0000ff" stroke="#0000ff" stroke-width="0.5"/>
<polygon points="114,471.46 115.42,474.03 112.58,474.03" fill="#0000ff" stroke="#0000ff" stroke-width="0.5"/>
<polygon points="146.6,443.82 148.03,446.39 145.17,446.39" fill="#0000ff" stroke="#0000ff" stroke-width="0.5"/>
<circle cx="49" cy="493.03" r="1.95" fill="#fff" stroke="#000000" stroke-width="0.95"/>
<circle cx="81.7" cy="480.71" r="1.95" fill="#fff" stroke="#000000" stroke-width="0.95"/>
<circle cx="114" cy="456.86" r="1.95" fill="#fff" stroke="#000000" stroke-width="0.95"/>
<circle cx="146.6" cy="427.76" r="1.95" fill="#fff" stroke="#000000" stroke-width="0.95"/>
<path d="M33.5,410.8V496.9M29.7,496.9H162.4M29.7,496.9H33.5M29.7,479.68H33.5M29.7,462.46H33.5M29.7,445.24H33.5M29.7,428.02H33.5M29.7,410.8H33.5M49,496.9V500.7M81.7,496.9V500.7M114,496.9V500.7M146.6,496.9V500.7" fill="none" stroke="#1a1a1a" stroke-width="1.25"/>
<text x="28.5" y="498.52" font-size="6.3" font-weight="700" text-anchor="end" fill="#000" stroke="#000" stroke-width="0.14">0</text>
<text x="28.5" y="481.3" font-size="6.3" font-weight="700" text-anchor="end" fill="#000" stroke="#000" stroke-width="0.14">200</text>
<text x="28.5" y="464.08" font-size="6.3" font-weight="700" text-anchor="end" fill="#000" stroke="#000" stroke-width="0.14">400</text>
<text x="28.5" y="446.86" font-size="6.3" font-weight="700" text-anchor="end" fill="#000" stroke="#000" stroke-width="0.14">600</text>
<text x="28.5" y="429.64" font-size="6.3" font-weight="700" text-anchor="end" fill="#000" stroke="#000" stroke-width="0.14">800</text>
<text x="28.5" y="412.42" font-size="6.3" font-weight="700" text-anchor="end" fill="#000" stroke="#000" stroke-width="0.14">1000</text>
<text x="49" y="508.2" font-size="6.3" font-weight="700" text-anchor="middle" fill="#000" stroke="#000" stroke-width="0.14">4</text>
<text x="81.7" y="508.2" font-size="6.3" font-weight="700" text-anchor="middle" fill="#000" stroke="#000" stroke-width="0.14">5</text>
<text x="114" y="508.2" font-size="6.3" font-weight="700" text-anchor="middle" fill="#000" stroke="#000" stroke-width="0.14">6</text>
<text x="146.6" y="508.2" font-size="6.3" font-weight="700" text-anchor="middle" fill="#000" stroke="#000" stroke-width="0.14">7</text>
<text x="97.8" y="517.9" font-size="7.1" font-weight="700" text-anchor="middle" fill="#000" stroke="#000" stroke-width="0.14">hours</text>
<text transform="translate(9.7,454.2) rotate(-90)" font-size="6.85" font-weight="700" text-anchor="middle" stroke="#000" stroke-width="0.14">relative <tspan font-style="italic">lasR</tspan> mRNA level</text>
<text x="-0.6" y="400" font-size="11.6" font-weight="400" text-anchor="start" fill="#000" stroke="#000" stroke-width="0.2">G</text>
<text x="114" y="445" font-size="6.5" font-weight="400" text-anchor="middle" fill="#000"><tspan font-weight="700">*</tspan><tspan font-weight="400" font-style="italic" fill="#000" stroke="#000" stroke-width="0.15" font-size="7.2" dy="0.5">#</tspan></text>
<text x="146.6" y="409.5" font-size="6.5" font-weight="400" text-anchor="middle" fill="#000"><tspan font-weight="700">*</tspan></text>
<path d="M225.7,489.99V495.67M223.7,489.99H227.7M223.7,495.67H227.7" fill="none" stroke="#ff0000" stroke-width="0.68"/>
<path d="M258,479.75V485.42M256,479.75H260M256,485.42H260" fill="none" stroke="#ff0000" stroke-width="0.68"/>
<path d="M290.5,462.51V471.02M288.5,462.51H292.5M288.5,471.02H292.5" fill="none" stroke="#ff0000" stroke-width="0.68"/>
<path d="M322.6,441.88V456.06M320.6,441.88H324.6M320.6,456.06H324.6" fill="none" stroke="#ff0000" stroke-width="0.68"/>
<path d="M225.7,489.82V492.65M223.7,489.82H227.7M223.7,492.65H227.7" fill="none" stroke="#0000ff" stroke-width="0.68"/>
<path d="M258,475.92V480.17M256,475.92H260M256,480.17H260" fill="none" stroke="#0000ff" stroke-width="0.68"/>
<path d="M290.5,455.78V467.12M288.5,455.78H292.5M288.5,467.12H292.5" fill="none" stroke="#0000ff" stroke-width="0.68"/>
<path d="M322.6,431.24V439.75M320.6,431.24H324.6M320.6,439.75H324.6" fill="none" stroke="#0000ff" stroke-width="0.68"/>
<path d="M225.7,486.14V490.39M223.7,486.14H227.7M223.7,490.39H227.7" fill="none" stroke="#3a3a3a" stroke-width="0.68"/>
<path d="M258,467.83V477.76M256,467.83H260M256,477.76H260" fill="none" stroke="#3a3a3a" stroke-width="0.68"/>
<path d="M290.5,443.15V451.66M288.5,443.15H292.5M288.5,451.66H292.5" fill="none" stroke="#3a3a3a" stroke-width="0.68"/>
<path d="M322.6,422.16V434.93M320.6,422.16H324.6M320.6,434.93H324.6" fill="none" stroke="#3a3a3a" stroke-width="0.68"/>
<path d="M225.7,492.83 L258,482.58 L290.5,466.77 L322.6,448.97" fill="none" stroke="#ff0000" stroke-width="1.05"/>
<path d="M225.7,491.24 L258,478.05 L290.5,461.45 L322.6,435.5" fill="none" stroke="#0000ff" stroke-width="1.05"/>
<path d="M225.7,488.26 L258,472.8 L290.5,447.41 L322.6,428.55" fill="none" stroke="#000000" stroke-width="1.0" stroke-dasharray="3.6 1.35 0.9 1.35"/>
<polygon points="225.7,491.29 227.01,492.83 225.7,494.37 224.39,492.83" fill="#ff0000" stroke="#ff0000" stroke-width="0.6"/>
<polygon points="258,481.05 259.31,482.58 258,484.12 256.69,482.58" fill="#ff0000" stroke="#ff0000" stroke-width="0.6"/>
<polygon points="290.5,465.23 291.81,466.77 290.5,468.31 289.19,466.77" fill="#ff0000" stroke="#ff0000" stroke-width="0.6"/>
<polygon points="322.6,447.43 323.91,448.97 322.6,450.51 321.29,448.97" fill="#ff0000" stroke="#ff0000" stroke-width="0.6"/>
<polygon points="225.7,489.82 227.12,492.38 224.27,492.38" fill="#0000ff" stroke="#0000ff" stroke-width="0.5"/>
<polygon points="258,476.63 259.43,479.19 256.57,479.19" fill="#0000ff" stroke="#0000ff" stroke-width="0.5"/>
<polygon points="290.5,460.03 291.93,462.6 289.07,462.6" fill="#0000ff" stroke="#0000ff" stroke-width="0.5"/>
<polygon points="322.6,434.08 324.03,436.64 321.18,436.64" fill="#0000ff" stroke="#0000ff" stroke-width="0.5"/>
<circle cx="225.7" cy="488.26" r="1.95" fill="#fff" stroke="#000000" stroke-width="0.95"/>
<circle cx="258" cy="472.8" r="1.95" fill="#fff" stroke="#000000" stroke-width="0.95"/>
<circle cx="290.5" cy="447.41" r="1.95" fill="#fff" stroke="#000000" stroke-width="0.95"/>
<circle cx="322.6" cy="428.55" r="1.95" fill="#fff" stroke="#000000" stroke-width="0.95"/>
<path d="M209.4,411.1V496.2M205.6,496.2H338.2M205.6,496.2H209.4M205.6,482.02H209.4M205.6,467.83H209.4M205.6,453.65H209.4M205.6,439.47H209.4M205.6,425.28H209.4M205.6,411.1H209.4M225.7,496.2V500M258,496.2V500M290.5,496.2V500M322.6,496.2V500" fill="none" stroke="#1a1a1a" stroke-width="1.25"/>
<text x="204.4" y="497.82" font-size="6.3" font-weight="700" text-anchor="end" fill="#000" stroke="#000" stroke-width="0.14">0</text>
<text x="204.4" y="483.64" font-size="6.3" font-weight="700" text-anchor="end" fill="#000" stroke="#000" stroke-width="0.14">2000</text>
<text x="204.4" y="469.45" font-size="6.3" font-weight="700" text-anchor="end" fill="#000" stroke="#000" stroke-width="0.14">4000</text>
<text x="204.4" y="455.27" font-size="6.3" font-weight="700" text-anchor="end" fill="#000" stroke="#000" stroke-width="0.14">6000</text>
<text x="204.4" y="441.09" font-size="6.3" font-weight="700" text-anchor="end" fill="#000" stroke="#000" stroke-width="0.14">8000</text>
<text x="204.4" y="426.9" font-size="6.3" font-weight="700" text-anchor="end" fill="#000" stroke="#000" stroke-width="0.14">10000</text>
<text x="204.4" y="412.72" font-size="6.3" font-weight="700" text-anchor="end" fill="#000" stroke="#000" stroke-width="0.14">12000</text>
<text x="225.7" y="507.5" font-size="6.3" font-weight="700" text-anchor="middle" fill="#000" stroke="#000" stroke-width="0.14">4</text>
<text x="258" y="507.5" font-size="6.3" font-weight="700" text-anchor="middle" fill="#000" stroke="#000" stroke-width="0.14">5</text>
<text x="290.5" y="507.5" font-size="6.3" font-weight="700" text-anchor="middle" fill="#000" stroke="#000" stroke-width="0.14">6</text>
<text x="322.6" y="507.5" font-size="6.3" font-weight="700" text-anchor="middle" fill="#000" stroke="#000" stroke-width="0.14">7</text>
<text x="274.15" y="517.6" font-size="7.1" font-weight="700" text-anchor="middle" fill="#000" stroke="#000" stroke-width="0.14">hours</text>
<text transform="translate(180.6,453.3) rotate(-90)" font-size="6.85" font-weight="700" text-anchor="middle" stroke="#000" stroke-width="0.14">relative <tspan font-style="italic">rhlR</tspan> mRNA level</text>
<text x="172.4" y="401" font-size="11.6" font-weight="400" text-anchor="start" fill="#000" stroke="#000" stroke-width="0.2">H</text>
<text x="258" y="464.5" font-size="6.5" font-weight="400" text-anchor="middle" fill="#000"><tspan font-weight="700">*</tspan></text>
<text x="290.5" y="437" font-size="6.5" font-weight="400" text-anchor="middle" fill="#000"><tspan font-weight="700">*</tspan><tspan font-weight="400" font-style="italic" fill="#000" stroke="#000" stroke-width="0.15" font-size="7.2" dy="0.5">#</tspan></text>
<text x="322.6" y="418.5" font-size="6.5" font-weight="400" text-anchor="middle" fill="#000"><tspan font-weight="700">*</tspan></text>
<path d="M398.6,466.9V470.31M396.6,466.9H400.6M396.6,470.31H400.6" fill="none" stroke="#0000ff" stroke-width="0.68"/>
<path d="M430.7,458.8V465.62M428.7,458.8H432.7M428.7,465.62H432.7" fill="none" stroke="#0000ff" stroke-width="0.68"/>
<path d="M462.5,451.63V463.57M460.5,451.63H464.5M460.5,463.57H464.5" fill="none" stroke="#0000ff" stroke-width="0.68"/>
<path d="M494.6,449.16V456.84M492.6,449.16H496.6M492.6,456.84H496.6" fill="none" stroke="#0000ff" stroke-width="0.68"/>
<path d="M398.6,459.65V471.59M396.6,459.65H400.6M396.6,471.59H400.6" fill="none" stroke="#ff0000" stroke-width="0.68"/>
<path d="M430.7,433.63V460.93M428.7,433.63H432.7M428.7,460.93H432.7" fill="none" stroke="#ff0000" stroke-width="0.68"/>
<path d="M462.5,432.44V452.91M460.5,432.44H464.5M460.5,452.91H464.5" fill="none" stroke="#ff0000" stroke-width="0.68"/>
<path d="M494.6,430.56V450.18M492.6,430.56H496.6M492.6,450.18H496.6" fill="none" stroke="#ff0000" stroke-width="0.68"/>
<path d="M398.6,442.93V468.52M396.6,442.93H400.6M396.6,468.52H400.6" fill="none" stroke="#3a3a3a" stroke-width="0.68"/>
<path d="M430.7,427.75V457.6M428.7,427.75H432.7M428.7,457.6H432.7" fill="none" stroke="#3a3a3a" stroke-width="0.68"/>
<path d="M462.5,423.06V445.23M460.5,423.06H464.5M460.5,445.23H464.5" fill="none" stroke="#3a3a3a" stroke-width="0.68"/>
<path d="M494.6,425.27V444.04M492.6,425.27H496.6M492.6,444.04H496.6" fill="none" stroke="#3a3a3a" stroke-width="0.68"/>
<path d="M398.6,468.61 L430.7,462.21 L462.5,457.6 L494.6,453" fill="none" stroke="#0000ff" stroke-width="1.05"/>
<path d="M398.6,465.62 L430.7,447.28 L462.5,442.68 L494.6,440.37" fill="none" stroke="#ff0000" stroke-width="1.05"/>
<path d="M398.6,455.73 L430.7,442.68 L462.5,434.15 L494.6,434.66" fill="none" stroke="#000000" stroke-width="1.0" stroke-dasharray="3.6 1.35 0.9 1.35"/>
<polygon points="398.6,467.19 400.03,469.75 397.18,469.75" fill="#0000ff" stroke="#0000ff" stroke-width="0.5"/>
<polygon points="430.7,460.79 432.12,463.36 429.27,463.36" fill="#0000ff" stroke="#0000ff" stroke-width="0.5"/>
<polygon points="462.5,456.19 463.93,458.75 461.07,458.75" fill="#0000ff" stroke="#0000ff" stroke-width="0.5"/>
<polygon points="494.6,451.58 496.03,454.14 493.18,454.14" fill="#0000ff" stroke="#0000ff" stroke-width="0.5"/>
<polygon points="398.6,464.08 399.91,465.62 398.6,467.16 397.29,465.62" fill="#ff0000" stroke="#ff0000" stroke-width="0.6"/>
<polygon points="430.7,445.74 432.01,447.28 430.7,448.82 429.39,447.28" fill="#ff0000" stroke="#ff0000" stroke-width="0.6"/>
<polygon points="462.5,441.14 463.81,442.68 462.5,444.21 461.19,442.68" fill="#ff0000" stroke="#ff0000" stroke-width="0.6"/>
<polygon points="494.6,438.84 495.91,440.37 494.6,441.91 493.29,440.37" fill="#ff0000" stroke="#ff0000" stroke-width="0.6"/>
<circle cx="398.6" cy="455.73" r="1.95" fill="#fff" stroke="#000000" stroke-width="0.95"/>
<circle cx="430.7" cy="442.68" r="1.95" fill="#fff" stroke="#000000" stroke-width="0.95"/>
<circle cx="462.5" cy="434.15" r="1.95" fill="#fff" stroke="#000000" stroke-width="0.95"/>
<circle cx="494.6" cy="434.66" r="1.95" fill="#fff" stroke="#000000" stroke-width="0.95"/>
<path d="M383.1,411.2V496.5M379.3,496.5H510.2M379.3,496.5H383.1M379.3,479.44H383.1M379.3,462.38H383.1M379.3,445.32H383.1M379.3,428.26H383.1M379.3,411.2H383.1M398.6,496.5V500.3M430.7,496.5V500.3M462.5,496.5V500.3M494.6,496.5V500.3" fill="none" stroke="#1a1a1a" stroke-width="1.25"/>
<text x="378.1" y="498.12" font-size="6.3" font-weight="700" text-anchor="end" fill="#000" stroke="#000" stroke-width="0.14">0</text>
<text x="378.1" y="481.06" font-size="6.3" font-weight="700" text-anchor="end" fill="#000" stroke="#000" stroke-width="0.14">200</text>
<text x="378.1" y="464" font-size="6.3" font-weight="700" text-anchor="end" fill="#000" stroke="#000" stroke-width="0.14">400</text>
<text x="378.1" y="446.94" font-size="6.3" font-weight="700" text-anchor="end" fill="#000" stroke="#000" stroke-width="0.14">600</text>
<text x="378.1" y="429.88" font-size="6.3" font-weight="700" text-anchor="end" fill="#000" stroke="#000" stroke-width="0.14">800</text>
<text x="378.1" y="412.82" font-size="6.3" font-weight="700" text-anchor="end" fill="#000" stroke="#000" stroke-width="0.14">1000</text>
<text x="398.6" y="507.8" font-size="6.3" font-weight="700" text-anchor="middle" fill="#000" stroke="#000" stroke-width="0.14">4</text>
<text x="430.7" y="507.8" font-size="6.3" font-weight="700" text-anchor="middle" fill="#000" stroke="#000" stroke-width="0.14">5</text>
<text x="462.5" y="507.8" font-size="6.3" font-weight="700" text-anchor="middle" fill="#000" stroke="#000" stroke-width="0.14">6</text>
<text x="494.6" y="507.8" font-size="6.3" font-weight="700" text-anchor="middle" fill="#000" stroke="#000" stroke-width="0.14">7</text>
<text x="446.6" y="517.9" font-size="7.1" font-weight="700" text-anchor="middle" fill="#000" stroke="#000" stroke-width="0.14">hours</text>
<text transform="translate(359.6,455.2) rotate(-90)" font-size="7.05" font-weight="700" text-anchor="middle" stroke="#000" stroke-width="0.14">relative <tspan font-style="italic">lasI</tspan> mRNA level</text>
<text x="350" y="399.6" font-size="11.6" font-weight="400" text-anchor="start" fill="#000" stroke="#000" stroke-width="0.2">I</text>
<text x="430.7" y="420.5" font-size="6.5" font-weight="400" text-anchor="middle" fill="#000"><tspan font-weight="400" font-style="italic" fill="#3a3a3a" font-size="7.2">#</tspan></text>
<text x="462.5" y="414.5" font-size="6.5" font-weight="400" text-anchor="middle" fill="#000"><tspan font-weight="400" font-style="italic" fill="#3a3a3a" font-size="7.2">#</tspan></text>
<text x="494.6" y="418.2" font-size="6.5" font-weight="400" text-anchor="middle" fill="#000"><tspan font-weight="400" font-style="italic" fill="#3a3a3a" font-size="7.2">#</tspan></text>
<path d="M573,491.57V493.83M571,491.57H575M571,493.83H575" fill="none" stroke="#ff0000" stroke-width="0.68"/>
<path d="M605,481.84V487.5M603,481.84H607M603,487.5H607" fill="none" stroke="#ff0000" stroke-width="0.68"/>
<path d="M636.7,470.2V478.11M634.7,470.2H638.7M634.7,478.11H638.7" fill="none" stroke="#ff0000" stroke-width="0.68"/>
<path d="M668.7,459.34V467.26M666.7,459.34H670.7M666.7,467.26H670.7" fill="none" stroke="#ff0000" stroke-width="0.68"/>
<path d="M573,487.05V491.57M571,487.05H575M571,491.57H575" fill="none" stroke="#0000ff" stroke-width="0.68"/>
<path d="M605,478.79V483.31M603,478.79H607M603,483.31H607" fill="none" stroke="#0000ff" stroke-width="0.68"/>
<path d="M636.7,463.92V479.75M634.7,463.92H638.7M634.7,479.75H638.7" fill="none" stroke="#0000ff" stroke-width="0.68"/>
<path d="M668.7,453.52V467.09M666.7,453.52H670.7M666.7,467.09H670.7" fill="none" stroke="#0000ff" stroke-width="0.68"/>
<path d="M573,481.17V484.56M571,481.17H575M571,484.56H575" fill="none" stroke="#3a3a3a" stroke-width="0.68"/>
<path d="M605,464.6V475.91M603,464.6H607M603,475.91H607" fill="none" stroke="#3a3a3a" stroke-width="0.68"/>
<path d="M636.7,446.85V458.16M634.7,446.85H638.7M634.7,458.16H638.7" fill="none" stroke="#3a3a3a" stroke-width="0.68"/>
<path d="M668.7,435.49V446.23M666.7,435.49H670.7M666.7,446.23H670.7" fill="none" stroke="#3a3a3a" stroke-width="0.68"/>
<path d="M573,492.7 L605,484.67 L636.7,474.16 L668.7,463.3" fill="none" stroke="#ff0000" stroke-width="1.05"/>
<path d="M573,489.31 L605,481.05 L636.7,471.84 L668.7,460.31" fill="none" stroke="#0000ff" stroke-width="1.05"/>
<path d="M573,482.86 L605,470.26 L636.7,452.5 L668.7,440.86" fill="none" stroke="#000000" stroke-width="1.0" stroke-dasharray="3.6 1.35 0.9 1.35"/>
<polygon points="573,491.16 574.31,492.7 573,494.24 571.69,492.7" fill="#ff0000" stroke="#ff0000" stroke-width="0.6"/>
<polygon points="605,483.13 606.31,484.67 605,486.21 603.69,484.67" fill="#ff0000" stroke="#ff0000" stroke-width="0.6"/>
<polygon points="636.7,472.62 638.01,474.16 636.7,475.69 635.39,474.16" fill="#ff0000" stroke="#ff0000" stroke-width="0.6"/>
<polygon points="668.7,461.76 670.01,463.3 668.7,464.84 667.39,463.3" fill="#ff0000" stroke="#ff0000" stroke-width="0.6"/>
<polygon points="573,487.89 574.42,490.45 571.58,490.45" fill="#0000ff" stroke="#0000ff" stroke-width="0.5"/>
<polygon points="605,479.64 606.42,482.2 603.58,482.2" fill="#0000ff" stroke="#0000ff" stroke-width="0.5"/>
<polygon points="636.7,470.42 638.12,472.99 635.28,472.99" fill="#0000ff" stroke="#0000ff" stroke-width="0.5"/>
<polygon points="668.7,458.89 670.12,461.45 667.28,461.45" fill="#0000ff" stroke="#0000ff" stroke-width="0.5"/>
<circle cx="573" cy="482.86" r="1.95" fill="#fff" stroke="#000000" stroke-width="0.95"/>
<circle cx="605" cy="470.26" r="1.95" fill="#fff" stroke="#000000" stroke-width="0.95"/>
<circle cx="636.7" cy="452.5" r="1.95" fill="#fff" stroke="#000000" stroke-width="0.95"/>
<circle cx="668.7" cy="440.86" r="1.95" fill="#fff" stroke="#000000" stroke-width="0.95"/>
<path d="M556.6,411.8V496.6M552.8,496.6H686M552.8,496.6H556.6M552.8,468.33H556.6M552.8,440.07H556.6M552.8,411.8H556.6M573,496.6V500.4M605,496.6V500.4M636.7,496.6V500.4M668.7,496.6V500.4" fill="none" stroke="#1a1a1a" stroke-width="1.25"/>
<text x="551.6" y="498.22" font-size="6.3" font-weight="700" text-anchor="end" fill="#000" stroke="#000" stroke-width="0.14">0</text>
<text x="551.6" y="469.95" font-size="6.3" font-weight="700" text-anchor="end" fill="#000" stroke="#000" stroke-width="0.14">5000</text>
<text x="551.6" y="441.69" font-size="6.3" font-weight="700" text-anchor="end" fill="#000" stroke="#000" stroke-width="0.14">10000</text>
<text x="551.6" y="413.42" font-size="6.3" font-weight="700" text-anchor="end" fill="#000" stroke="#000" stroke-width="0.14">15000</text>
<text x="573" y="507.9" font-size="6.3" font-weight="700" text-anchor="middle" fill="#000" stroke="#000" stroke-width="0.14">4</text>
<text x="605" y="507.9" font-size="6.3" font-weight="700" text-anchor="middle" fill="#000" stroke="#000" stroke-width="0.14">5</text>
<text x="636.7" y="507.9" font-size="6.3" font-weight="700" text-anchor="middle" fill="#000" stroke="#000" stroke-width="0.14">6</text>
<text x="668.7" y="507.9" font-size="6.3" font-weight="700" text-anchor="middle" fill="#000" stroke="#000" stroke-width="0.14">7</text>
<text x="620.85" y="518" font-size="7.1" font-weight="700" text-anchor="middle" fill="#000" stroke="#000" stroke-width="0.14">hours</text>
<text transform="translate(530.2,454) rotate(-90)" font-size="6.85" font-weight="700" text-anchor="middle" stroke="#000" stroke-width="0.14">relative <tspan font-style="italic">rhlI</tspan> mRNA level</text>
<text x="519.6" y="400" font-size="11.6" font-weight="400" text-anchor="start" fill="#000" stroke="#000" stroke-width="0.2">J</text>
<text x="573" y="474" font-size="6.5" font-weight="400" text-anchor="middle" fill="#000"><tspan font-weight="700">*</tspan><tspan font-weight="400" font-style="italic" fill="#000" stroke="#000" stroke-width="0.15" font-size="7.2" dy="0.5">#</tspan></text>
<text x="605" y="458" font-size="6.5" font-weight="400" text-anchor="middle" fill="#000"><tspan font-weight="700">*</tspan><tspan font-weight="400" font-style="italic" fill="#000" stroke="#000" stroke-width="0.15" font-size="7.2" dy="0.5">#</tspan></text>
<text x="636.7" y="441.5" font-size="6.5" font-weight="400" text-anchor="middle" fill="#000"><tspan font-weight="700">*</tspan><tspan font-weight="400" font-style="italic" fill="#000" stroke="#000" stroke-width="0.15" font-size="7.2" dy="0.5">#</tspan></text>
<text x="668.7" y="429" font-size="6.5" font-weight="400" text-anchor="middle" fill="#000"><tspan font-weight="700">*</tspan><tspan font-weight="400" font-style="italic" fill="#000" stroke="#000" stroke-width="0.15" font-size="7.2" dy="0.5">#</tspan></text>
</svg>
</body></html>
